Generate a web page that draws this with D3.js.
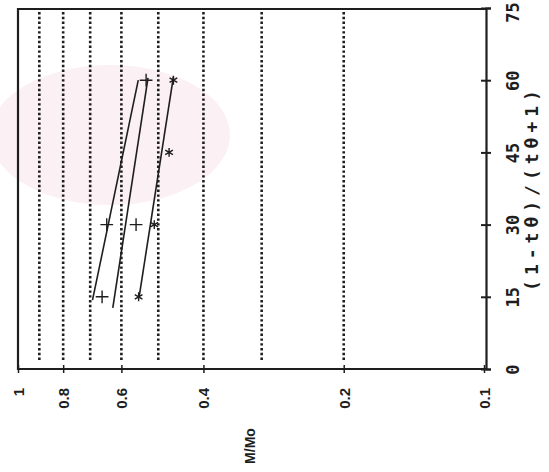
<!DOCTYPE html>
<html>
<head>
<meta charset="utf-8">
<script src="https://cdn.jsdelivr.net/npm/d3@7"></script>
<style>
  body { margin: 0; background: #fff; }
  svg { display: block; }
</style>
</head>
<body>
<svg id="chart"></svg>
<script>
// M/Mo (log, reversed) against (1-tθ)/(tθ+1); whole page is rotated as in the scan
const massTicks = [1, 0.8, 0.6, 0.4, 0.2, 0.1];
const refLines = [0.9, 0.8, 0.7, 0.6, 0.5, 0.4, 0.3, 0.2];
const timeTicks = [0, 15, 30, 45, 60, 75];

// measured points
const seriesA = [{ t: 15, m: 0.66 }, { t: 30, m: 0.645 }];
const seriesB = [{ t: 30, m: 0.558 }, { t: 60, m: 0.531 }];
const seriesC = [{ t: 15, m: 0.551 }, { t: 30, m: 0.51 }, { t: 45, m: 0.474 }, { t: 60, m: 0.464 }];

// fitted lines (end points)
const fitA = [{ t: 14.3, m: 0.692 }, { t: 60, m: 0.552 }];
const fitB = [{ t: 12.7, m: 0.626 }, { t: 60.5, m: 0.526 }];
const fitC = [{ t: 14.8, m: 0.55 }, { t: 60.7, m: 0.464 }];

const width = 549;
const height = 472;
const ink = '#1e1e1e';

const svg = d3.select('#chart').attr('width', width).attr('height', height);

// faint pink stamp behind the plot
svg.append('ellipse')
  .attr('cx', 110).attr('cy', 135)
  .attr('rx', 120).attr('ry', 70)
  .attr('fill', '#fbf0f3');

const x = d3.scaleLog().domain([1, 0.1]).range([18, 484]);
const y = d3.scaleLinear().domain([0, 75]).range([369, 8]);

const frame = { left: 18, right: 486, top: 9, bottom: 369 };

// dotted reference lines
svg.append('g')
  .selectAll('line')
  .data(refLines)
  .join('line')
  .attr('x1', d => x(d)).attr('x2', d => x(d))
  .attr('y1', frame.top + 3).attr('y2', frame.bottom - 8)
  .attr('stroke', ink)
  .attr('stroke-width', 2.6)
  .attr('stroke-dasharray', '2.4,2.4');

// frame
svg.append('path')
  .attr('d', `M${frame.right},${frame.top}H${frame.left}V${frame.bottom}H${frame.right}`)
  .attr('fill', 'none')
  .attr('stroke', ink)
  .attr('stroke-width', 2.2);

// right axis
const yAxis = svg.append('g')
  .attr('transform', `translate(${frame.right},0)`)
  .call(d3.axisRight(y).tickValues(timeTicks).tickSize(5).tickFormat(d3.format('d')));
yAxis.select('.domain').attr('stroke', ink).attr('stroke-width', 2.2);
yAxis.selectAll('.tick line').attr('x1', -5).attr('stroke', ink).attr('stroke-width', 2);
yAxis.selectAll('.tick text')
  .attr('x', 0).attr('dy', 0)
  // the top label sits against the page edge, keep it inside
  .attr('transform', d => `translate(27,${d === 75 ? 4 : 0}) rotate(-90)`)
  .attr('text-anchor', 'middle')
  .attr('dominant-baseline', 'central')
  .attr('fill', ink)
  .style('font', 'bold 17px "DejaVu Sans Mono", monospace');

// bottom axis
const xAxis = svg.append('g')
  .attr('transform', `translate(0,${frame.bottom})`)
  .call(d3.axisBottom(x).tickValues(massTicks).tickSize(4).tickFormat(d3.format('')));
xAxis.select('.domain').remove();
xAxis.selectAll('.tick line').attr('y1', -4).attr('stroke', ink).attr('stroke-width', 1.5);
xAxis.selectAll('.tick text')
  .attr('y', 0).attr('dy', 0)
  .attr('transform', 'translate(0,19) rotate(-90)')
  .attr('text-anchor', 'end')
  .attr('dominant-baseline', 'central')
  .attr('fill', ink)
  .style('font', 'bold 15px "Liberation Sans", Arial, sans-serif');

// axis titles
svg.append('text')
  .attr('transform', 'translate(250,446) rotate(-90)')
  .attr('text-anchor', 'middle')
  .attr('dominant-baseline', 'central')
  .attr('fill', ink)
  .style('font', 'bold 14px "Liberation Sans", Arial, sans-serif')
  .text('M/Mo');

svg.append('text')
  .attr('transform', 'translate(531,188) rotate(-90)')
  .attr('text-anchor', 'middle')
  .attr('dominant-baseline', 'central')
  .attr('fill', ink)
  .style('font', 'bold 18px "DejaVu Sans Mono", monospace')
  .style('letter-spacing', '5px')
  .text('(1-tθ)/(tθ+1)');

// fitted lines
const line = d3.line().x(d => x(d.m)).y(d => y(d.t));
svg.append('g')
  .selectAll('path')
  .data([fitA, fitB, fitC])
  .join('path')
  .attr('d', line)
  .attr('fill', 'none')
  .attr('stroke', ink)
  .attr('stroke-width', 1.6);

// markers
const markers = [
  { data: seriesA, type: d3.symbolPlus },
  { data: seriesB, type: d3.symbolPlus },
  { data: seriesC, type: d3.symbolAsterisk }
];
markers.forEach(s => {
  svg.append('g')
    .selectAll('path')
    .data(s.data)
    .join('path')
    .attr('transform', d => `translate(${x(d.m)},${y(d.t)})`)
    .attr('d', d3.symbol(s.type, 55))
    .attr('fill', 'none')
    .attr('stroke', ink)
    .attr('stroke-width', 1.4);
});
</script>
</body>
</html>
